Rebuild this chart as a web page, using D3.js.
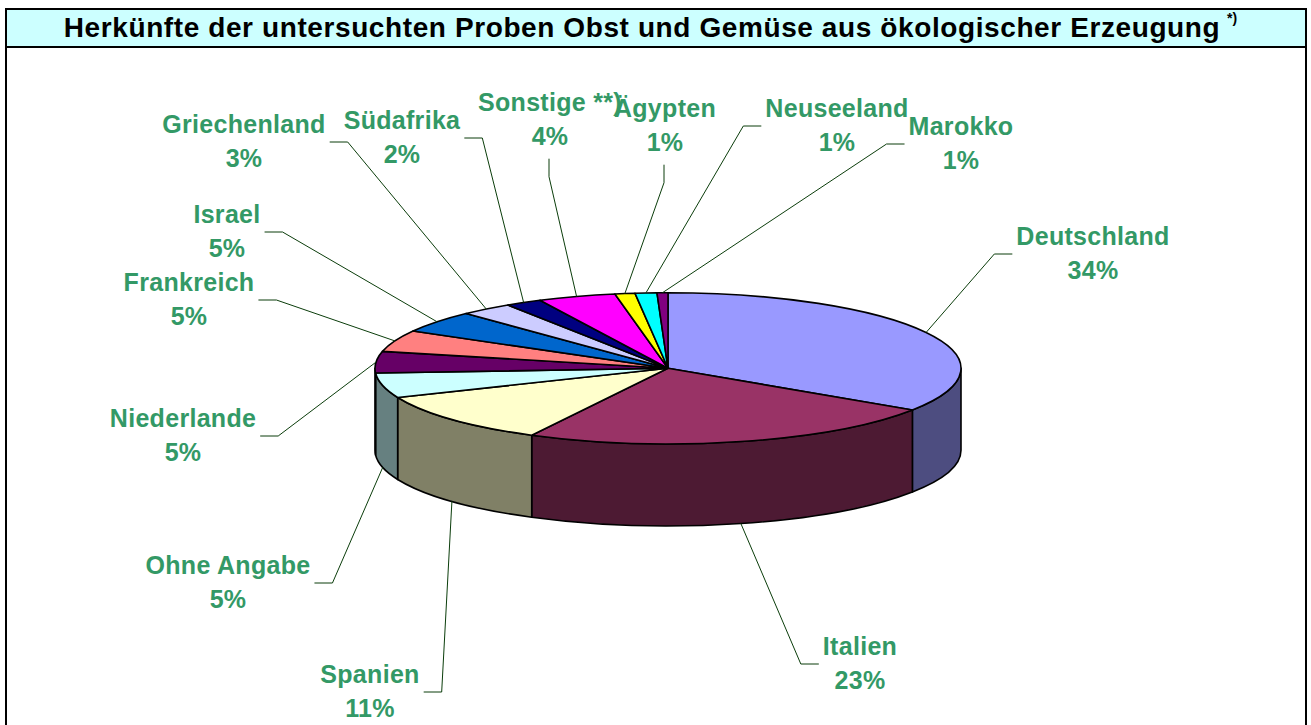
<!DOCTYPE html>
<html>
<head>
<meta charset="utf-8">
<script src="https://cdn.jsdelivr.net/npm/d3@7"></script>
<style>
body { margin: 0; background: #fff; }
svg { display: block; }
.lbl { font-family: "Liberation Sans", Arial, sans-serif; font-weight: bold; font-size: 25px; fill: #339966; letter-spacing: 0.3px; }
.title { font-family: "Liberation Sans", Arial, sans-serif; font-weight: bold; font-size: 28px; fill: #000; letter-spacing: 0.6px; }
</style>
</head>
<body>
<svg width="1311" height="725"></svg>
<script>
// shares in percent (labels are rounded)
var names = ["Deutschland", "Italien", "Spanien", "Ohne Angabe", "Niederlande", "Frankreich",
	"Israel", "Griechenland", "Südafrika", "Sonstige **)", "Ägypten", "Neuseeland", "Marokko"];
var shares = [34.3, 23.4, 11.0, 5.3, 4.6, 4.6, 4.7, 2.9, 2.0, 4.3, 1.1, 1.2, 0.6];

var fills = ["#9999FF", "#993366", "#FFFFCC", "#CCFFFF", "#660066", "#FF8080",
	"#0066CC", "#CCCCFF", "#000080", "#FF00FF", "#FFFF00", "#00FFFF", "#800080"];

// label placement (centre x, baseline of first line), positioned by hand in the original
var labelAt = [[1093, 245], [860, 655], [370, 683], [228, 574], [183, 427], [189, 291],
	[227, 223], [244, 133], [402, 129], [550, 111], [665, 117], [837, 117], [961, 135]];

var title = "Herkünfte der untersuchten Proben Obst und Gemüse aus ökologischer Erzeugung";

var svg = d3.select("svg");

// frame and title bar
svg.append("rect").attr("x", 6).attr("y", 9).attr("width", 1300).attr("height", 740)
	.attr("fill", "#fff").attr("stroke", "#000").attr("stroke-width", 2);
svg.append("rect").attr("x", 6).attr("y", 9).attr("width", 1300).attr("height", 38)
	.attr("fill", "#CCFFFF").attr("stroke", "#000").attr("stroke-width", 2);
svg.append("text").attr("class", "title").attr("x", 642).attr("y", 37)
	.attr("text-anchor", "middle").text(title);
svg.append("text").attr("class", "title").attr("x", 1227).attr("y", 23)
	.style("font-size", "14px").style("letter-spacing", "0px").text("*)");

// 3d pie geometry
var cx = 668, cy = 368.3, rx = 293, ry = 75.6, depth = 82;

function pt(a, dy) {
	return [cx + rx * Math.sin(a), cy - ry * Math.cos(a) + (dy || 0)];
}

var arcs = d3.pie().sort(null).value(function(d) { return d; })(shares);

function shade(c) {
	var r = d3.rgb(c);
	return d3.rgb(r.r / 2, r.g / 2, r.b / 2).formatHex();
}

// side walls for the front half (angles between 90 and 270 degrees)
var sides = svg.append("g");
arcs.forEach(function(d, i) {
	var a = Math.max(d.startAngle, Math.PI / 2),
		b = Math.min(d.endAngle, 3 * Math.PI / 2);
	if (b <= a) return;
	var p0 = pt(a), p1 = pt(b), q1 = pt(b, depth), q0 = pt(a, depth);
	var path = "M" + p0 + "A" + rx + "," + ry + " 0 0 1 " + p1
		+ "L" + q1 + "A" + rx + "," + ry + " 0 0 0 " + q0 + "Z";
	sides.append("path").attr("d", path)
		.attr("fill", shade(fills[i]))
		.attr("stroke", "#000").attr("stroke-width", 1.6).attr("stroke-linejoin", "round");
});

// top faces
var tops = svg.append("g");
arcs.forEach(function(d, i) {
	var p0 = pt(d.startAngle), p1 = pt(d.endAngle);
	var large = (d.endAngle - d.startAngle > Math.PI) ? 1 : 0;
	var path = "M" + cx + "," + cy + "L" + p0
		+ "A" + rx + "," + ry + " 0 " + large + " 1 " + p1 + "Z";
	tops.append("path").attr("d", path)
		.attr("fill", fills[i])
		.attr("stroke", "#000").attr("stroke-width", 1.6).attr("stroke-linejoin", "round");
});

// labels and leader lines
var lines = svg.append("g");
var labels = svg.append("g");
var gap = 33.7;

arcs.forEach(function(d, i) {
	var x = labelAt[i][0], y = labelAt[i][1];
	var t1 = labels.append("text").attr("class", "lbl").attr("x", x).attr("y", y)
		.attr("text-anchor", "middle").text(names[i]);
	var t2 = labels.append("text").attr("class", "lbl").attr("x", x).attr("y", y + gap)
		.attr("text-anchor", "middle").text(Math.round(shares[i]) + "%");
	var w = Math.max(t1.node().getComputedTextLength(), t2.node().getComputedTextLength());
	var left = x - w / 2, right = x + w / 2;

	var m = (d.startAngle + d.endAngle) / 2;
	var anchor = Math.cos(m) >= 0 ? pt(m) : pt(m, depth);

	var pts;
	if (anchor[0] > right) {
		pts = [[right + 4, y + 9], [right + 22, y + 9], anchor];
	} else if (anchor[0] < left) {
		pts = [[left - 4, y + 9], [left - 22, y + 9], anchor];
	} else {
		pts = [[x - 1, y + gap + 14], [x - 1, y + gap + 32], anchor];
	}
	lines.append("path").attr("d", d3.line()(pts))
		.attr("fill", "none").attr("stroke", "#0B3D0B").attr("stroke-width", 1);
});
</script>
</body>
</html>
